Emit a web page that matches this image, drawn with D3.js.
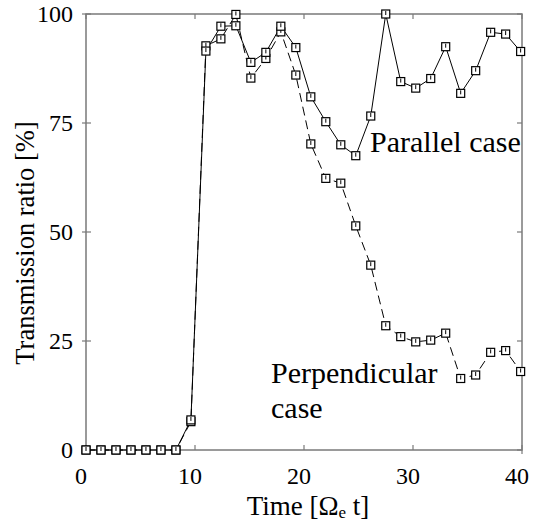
<!DOCTYPE html>
<html><head><meta charset="utf-8">
<script src="https://cdn.jsdelivr.net/npm/d3@7"></script>
<style>body{margin:0;background:#fff}svg{display:block}</style>
</head><body>
<svg id="c" width="547" height="527"></svg>
<script>
const times = [0,1.375,2.75,4.125,5.5,6.875,8.25,9.625,11,12.375,13.75,15.125,16.5,17.875,19.25,20.625,22,23.375,24.75,26.125,27.5,28.875,30.25,31.625,33,34.375,35.75,37.125,38.5,39.875];
const parallel = [0,0,0,0,0,0,0,6.9,91.5,97.2,97.3,88.9,91.2,97.2,92.3,81.0,75.3,70.0,67.5,76.6,100,84.5,83.0,85.2,92.5,81.8,87.0,95.8,95.4,91.4];
const perpendicular = [0,0,0,0,0,0,0,6.5,92.7,94.3,99.9,85.3,89.8,95.9,86.0,70.2,62.3,61.2,51.4,42.4,28.5,26.0,24.8,25.2,26.8,16.4,17.2,22.4,22.8,18.0];
const xTicks = [0,10,20,30,40];
const yTicks = [0,25,50,75,100];

const svg = d3.select("#c");
const x = d3.scaleLinear().domain([0,40]).range([86,522]);
const y = d3.scaleLinear().domain([0,100]).range([450,14]);
const frame = "#7a7a7a";

function txt(sel, size){
  return sel.append("text").attr("font-family","Liberation Serif").attr("font-size",size).attr("fill","#000")
    .style("font-family","'Liberation Serif', 'Times New Roman', serif").style("font-size",size+"px");
}

svg.append("rect").attr("x",x(0)).attr("y",y(100)).attr("width",x(40)-x(0)).attr("height",y(0)-y(100))
  .attr("fill","none").attr("stroke",frame).attr("stroke-width",1.5);

const g = svg.append("g").attr("stroke",frame).attr("stroke-width",1.2);
xTicks.forEach(t=>{
  g.append("line").attr("x1",x(t)).attr("x2",x(t)).attr("y1",y(0)+(t===0||t===40?4:0)).attr("y2",y(0)-5);
  g.append("line").attr("x1",x(t)).attr("x2",x(t)).attr("y1",y(100)).attr("y2",y(100)+5);
});
yTicks.forEach(t=>{
  g.append("line").attr("x1",x(0)-4).attr("x2",x(0)+5).attr("y1",y(t)).attr("y2",y(t));
  g.append("line").attr("x1",x(40)).attr("x2",x(40)-5).attr("y1",y(t)).attr("y2",y(t));
});

xTicks.forEach(t=>{
  txt(svg,24).attr("x",x(t)-5).attr("y",484).attr("text-anchor","middle").text(t);
});
yTicks.forEach(t=>{
  txt(svg,24).attr("x",x(0)-13).attr("y",y(t)+8).attr("text-anchor","end").text(t);
});

const xt = txt(svg,27).attr("x",308).attr("y",515).attr("text-anchor","middle");
xt.append("tspan").text("Time [Ω");
xt.append("tspan").style("font-size","17px").attr("dy",3).text("e");
xt.append("tspan").attr("dy",-3).text(" t]");
txt(svg,26.5).attr("transform","translate(33.5,243) rotate(-90)").attr("text-anchor","middle").text("Transmission ratio [%]");

const line = d3.line().x(d=>x(d[0])).y(d=>y(d[1]));
const parData = times.map((t,i)=>[t,parallel[i]]);
const perData = times.map((t,i)=>[t,perpendicular[i]]);
svg.append("path").attr("d",line(perData)).attr("fill","none").attr("stroke","#000").attr("stroke-width",1).attr("stroke-dasharray","9,5");
svg.append("path").attr("d",line(parData)).attr("fill","none").attr("stroke","#000").attr("stroke-width",1);

function markers(data){
  const m = svg.append("g");
  data.forEach(d=>{
    const cx=x(d[0]), cy=y(d[1]);
    m.append("rect").attr("x",cx-4).attr("y",cy-4).attr("width",8).attr("height",8).attr("fill","#fff").attr("stroke","#000").attr("stroke-width",1.2);
    m.append("line").attr("x1",cx).attr("x2",cx).attr("y1",cy-3).attr("y2",cy+1).attr("stroke","#000").attr("stroke-width",1);
  });
}
markers(perData);
markers(parData);

txt(svg,30).attr("x",370).attr("y",152).text("Parallel case");
txt(svg,30).attr("x",271).attr("y",383).text("Perpendicular");
txt(svg,30).attr("x",271).attr("y",418).text("case");
</script>
</body></html>
